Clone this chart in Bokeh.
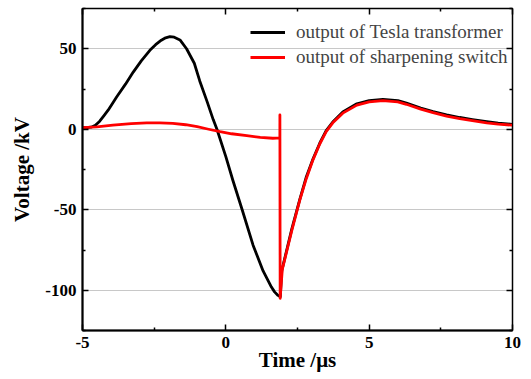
from bokeh.plotting import figure
from bokeh.models import (Range1d, LinearAxis, FixedTicker, Legend, LegendItem,
                          CustomLabelingPolicy)
from bokeh.embed import file_html
from bokeh.resources import INLINE

# Output of the Tesla transformer (time in us, voltage in kV)
time_tesla = [-5.0, -4.8, -4.7, -4.55, -4.4, -4.25, -4.1, -3.81, -3.5, -3.23, -2.95,
              -2.65, -2.45, -2.25, -2.1, -1.95, -1.8, -1.6, -1.37, -1.1, -0.91, -0.65,
              -0.44, -0.31, 0.0, 0.25, 0.57, 0.95, 1.3, 1.59, 1.7, 1.82, 1.9, 1.95,
              2.3, 2.58, 2.8, 3.04, 3.28, 3.5, 3.73, 4.08, 4.57, 5.0, 5.48, 6.0, 6.3,
              6.8, 7.23, 7.7, 8.16, 8.6, 9.1, 9.5, 10.0]
volt_tesla = [1.0, 1.1, 1.3, 2.5, 5.0, 8.5, 12.0, 20.0, 28.0, 35.5, 42.5,
              49.0, 52.5, 55.3, 56.8, 57.5, 57.2, 55.5, 50.0, 41.0, 30.0, 17.0,
              6.0, 0.0, -17.0, -32.0, -50.0, -72.0, -88.0, -98.0, -101.0, -103.2, -104.0, -88.0,
              -62.0, -43.5, -30.0, -18.5, -8.5, -0.8, 4.5, 10.8, 15.8, 17.8, 18.6, 17.8, 16.2,
              13.2, 11.0, 9.0, 7.3, 6.0, 4.7, 3.8, 3.0]

# Output of the sharpening switch
time_switch = [-5.0, -4.5, -3.94, -3.3, -2.76, -2.3, -1.85, -1.4, -1.0, -0.6, -0.2,
               0.2, 0.73, 1.2, 1.64, 1.885, 1.886, 1.895, 1.97, 2.3, 2.58, 2.8,
               3.04, 3.28, 3.5, 3.73, 4.08, 4.57, 5.0, 5.48, 6.0, 6.3, 6.8, 7.23,
               7.7, 8.16, 8.6, 9.1, 9.5, 10.0]
volt_switch = [1.0, 1.5, 2.5, 3.5, 4.0, 4.0, 3.7, 2.8, 1.6, 0.0, -1.5,
               -2.8, -4.0, -5.0, -5.6, -5.4, 8.9, -105.0, -87.0, -63.0, -44.0, -31.0,
               -19.0, -9.0, -1.5, 4.0, 10.0, 15.0, 17.0, 17.8, 17.0, 15.5, 12.5, 10.3,
               8.2, 6.6, 5.3, 4.0, 3.2, 2.5]

x_ticks = [-5, 0, 5, 10]
x_minor = [-2.5, 2.5, 7.5]
x_labels = ["-5", "0", "5", "10"]
y_ticks = [-100, -50, 0, 50]
y_minor = [-125, -75, -25, 25, 75]
y_labels = ["-100", "-50", "0", "50"]

FONT = "Liberation Serif"

p = figure(frame_width=430, frame_height=322,
           x_range=Range1d(-5, 10), y_range=Range1d(-125, 75),
           output_backend="svg", toolbar_location=None,
           min_border_left=82, min_border_right=19, min_border_top=8, min_border_bottom=49,
           x_axis_label="Time /\u03bcs", y_axis_label="Voltage /kV")

p.outline_line_color = "black"
p.outline_line_width = 1.5
p.background_fill_color = "white"
p.border_fill_color = "white"

p.xgrid.visible = False
p.ygrid.ticker = FixedTicker(ticks=y_ticks)
p.ygrid.grid_line_color = "#c8c8c8"
p.ygrid.grid_line_width = 1

# labeling policy that keeps no labels (for the mirrored tick-only axes)
no_labels = CustomLabelingPolicy(code="""
    const all = [...indices]
    for (const i of all) indices.unset(i)
    return indices
""")


def style_axis(ax, ticks, minor, labels, show_labels=True):
    ax.ticker = FixedTicker(ticks=ticks, minor_ticks=minor)
    ax.major_tick_in = 6
    ax.major_tick_out = 0
    ax.minor_tick_in = 3
    ax.minor_tick_out = 0
    ax.axis_line_color = "black"
    ax.major_tick_line_color = "black"
    ax.minor_tick_line_color = "black"
    ax.major_tick_line_width = 1.5
    ax.minor_tick_line_width = 1.5
    if show_labels:
        ax.major_label_overrides = dict(zip(ticks, labels))
        ax.major_label_text_font = FONT
        ax.major_label_text_font_style = "bold"
        ax.major_label_text_font_size = "17px"
        ax.major_label_text_color = "black"
        ax.axis_label_text_font = FONT
        ax.axis_label_text_font_style = "bold"
        ax.axis_label_text_font_size = "21px"
        ax.axis_label_text_color = "black"
    else:
        ax.major_label_policy = no_labels
        ax.major_label_text_font_size = "0px"
        ax.major_label_standoff = 0
        ax.axis_label_standoff = 0


style_axis(p.xaxis[0], x_ticks, x_minor, x_labels)
style_axis(p.yaxis[0], y_ticks, y_minor, y_labels)
p.xaxis[0].axis_line_width = 2
p.yaxis[0].axis_line_width = 2
p.xaxis[0].major_label_standoff = 6
p.yaxis[0].major_label_standoff = 6
p.xaxis[0].axis_label_standoff = -3
p.yaxis[0].axis_label_standoff = 8

# mirrored tick marks on the top and right edges
top_axis = LinearAxis()
right_axis = LinearAxis()
style_axis(top_axis, x_ticks, x_minor, x_labels, show_labels=False)
style_axis(right_axis, y_ticks, y_minor, y_labels, show_labels=False)
p.add_layout(top_axis, "above")
p.add_layout(right_axis, "right")

r_tesla = p.line(time_tesla, volt_tesla, line_color="black", line_width=2.8,
                 line_join="round")
r_switch = p.line(time_switch, volt_switch, line_color="#ff0000", line_width=2.8,
                  line_join="round")

legend = Legend(
    items=[LegendItem(label="output of Tesla transformer", renderers=[r_tesla]),
           LegendItem(label="output of sharpening switch", renderers=[r_switch])],
    location=(168, 262),
    border_line_alpha=0, background_fill_alpha=0,
    label_text_font=FONT, label_text_font_size="19px",
    glyph_width=35, glyph_height=20, label_height=20,
    spacing=3, padding=0, margin=0, label_standoff=11,
)
p.add_layout(legend)

open("out.html", "w").write(file_html(p, INLINE))
